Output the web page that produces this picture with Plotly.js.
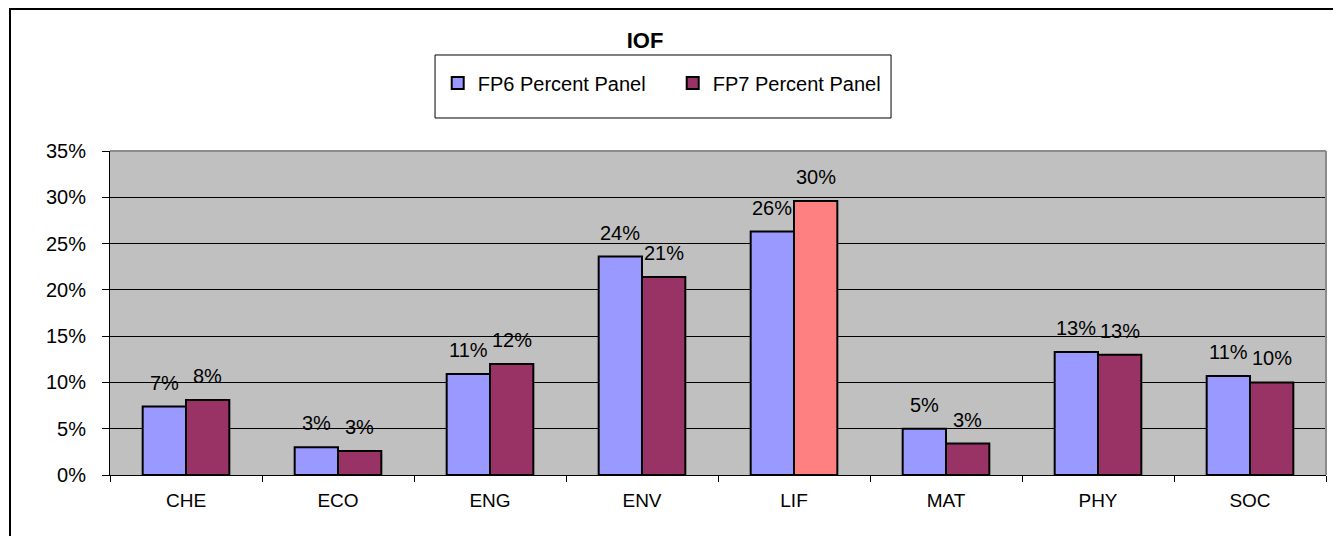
<!DOCTYPE html>
<html>
<head>
<meta charset="utf-8">
<script src="https://cdn.plot.ly/plotly-3.0.1.min.js"></script>
<style>
  body { margin: 0; background: #fff; overflow: hidden; }
  #frame { position: absolute; left: 9px; top: 8px; width: 1400px; height: 600px; border: 2px solid #000; }
  #plot { position: absolute; left: 0; top: 0; width: 1333px; height: 536px; }
</style>
</head>
<body>
<div id="frame"></div>
<div id="plot"></div>
<script>
// IOF - FP6 vs FP7 percent panel by area

let categories = ["CHE", "ECO", "ENG", "ENV", "LIF", "MAT", "PHY", "SOC"];
let fp6 = [7.4, 3.0, 10.9, 23.6, 26.3, 5.0, 13.3, 10.7];
let fp7 = [8.1, 2.6, 12.0, 21.4, 29.6, 3.4, 13.0, 10.0];
let yTicks = [0, 5, 10, 15, 20, 25, 30, 35];

let fp6Color = "#9999ff";
let fp7Color = "#993366";
let lifColor = "#ff8080";

let font = "Liberation Sans, Arial, sans-serif";
let bargap = 0.43;

// FP7 has one odd bar (LIF) in a lighter red
let fp7Colors = categories.map(c => c === "LIF" ? lifColor : fp7Color);

let trace1 = {
  x: categories,
  y: fp6,
  name: "FP6 Percent Panel",
  type: "bar",
  marker: { color: fp6Color, line: { color: "#000", width: 2 } },
  hoverinfo: "none"
};

let trace2 = {
  x: categories,
  y: fp7,
  name: "FP7 Percent Panel",
  type: "bar",
  marker: { color: fp7Colors, line: { color: "#000", width: 2 } },
  hoverinfo: "none"
};

// value labels, rounded like the original
let off = (1 - bargap) / 4;
let annotations = [];
for (let i = 0; i < categories.length; i++) {
  annotations.push({
    x: i - off, y: fp6[i], xref: "x", yref: "y",
    text: Math.round(fp6[i]) + "%", showarrow: false,
    yanchor: "bottom", yshift: 11,
    font: { family: font, size: 20, color: "#000" }
  });
  annotations.push({
    x: i + off, y: fp7[i], xref: "x", yref: "y",
    text: Math.round(fp7[i]) + "%", showarrow: false,
    yanchor: "bottom", yshift: 11,
    font: { family: font, size: 20, color: "#000" }
  });
}

let layout = {
  width: 1333,
  height: 536,
  margin: { l: 110, r: 7, t: 151, b: 61, pad: 0 },
  paper_bgcolor: "rgba(0,0,0,0)",
  plot_bgcolor: "#c0c0c0",
  barmode: "group",
  bargap: bargap,
  bargroupgap: 0,
  title: {
    text: "<b>IOF</b>",
    font: { family: font, size: 22, color: "#000" },
    xref: "paper", x: 0.44, xanchor: "center",
    yref: "container", y: 0.925, yanchor: "middle"
  },
  showlegend: true,
  legend: {
    orientation: "h",
    x: 0.2695, xanchor: "left",
    y: 1.21, yanchor: "middle",
    bgcolor: "rgba(0,0,0,0)",
    borderwidth: 0,
    font: { family: font, size: 20, color: "#000" },
    entrywidth: 190,
    entrywidthmode: "pixels",
    traceorder: "normal"
  },
  xaxis: {
    type: "category",
    tickson: "boundaries",
    ticks: "outside",
    ticklen: 6,
    tickcolor: "#000",
    tickwidth: 1,
    showline: true,
    linecolor: "#000",
    linewidth: 1,
    showgrid: false,
    ticklabelstandoff: 8,
    tickfont: { family: font, size: 19, color: "#000" },
    fixedrange: true
  },
  yaxis: {
    range: [0, 35],
    tickvals: yTicks,
    ticktext: yTicks.map(v => v + "%"),
    ticks: "outside",
    ticklen: 7,
    tickcolor: "#000",
    showline: true,
    linecolor: "#000",
    linewidth: 1,
    showgrid: true,
    gridcolor: "#000",
    gridwidth: 1,
    zeroline: false,
    ticklabelstandoff: 12,
    tickfont: { family: font, size: 20, color: "#000" },
    fixedrange: true
  },
  shapes: [
    // legend box
    { type: "rect", xref: "paper", yref: "paper",
      x0: 0.2673, x1: 0.6423, y0: 1.1019, y1: 1.2963,
      line: { color: "#000", width: 1 }, fillcolor: "#fff", layer: "below" },
    // grey top and right border of the plot area
    { type: "line", xref: "paper", yref: "paper", x0: 0, x1: 1, y0: 1, y1: 1,
      line: { color: "#8c8c8c", width: 2 }, layer: "above" },
    { type: "line", xref: "paper", yref: "paper", x0: 1, x1: 1, y0: 0, y1: 1,
      line: { color: "#8c8c8c", width: 2 }, layer: "above" }
  ],
  annotations: annotations
};

Plotly.newPlot("plot", [trace1, trace2], layout, { displayModeBar: false, staticPlot: true });
</script>
</body>
</html>
